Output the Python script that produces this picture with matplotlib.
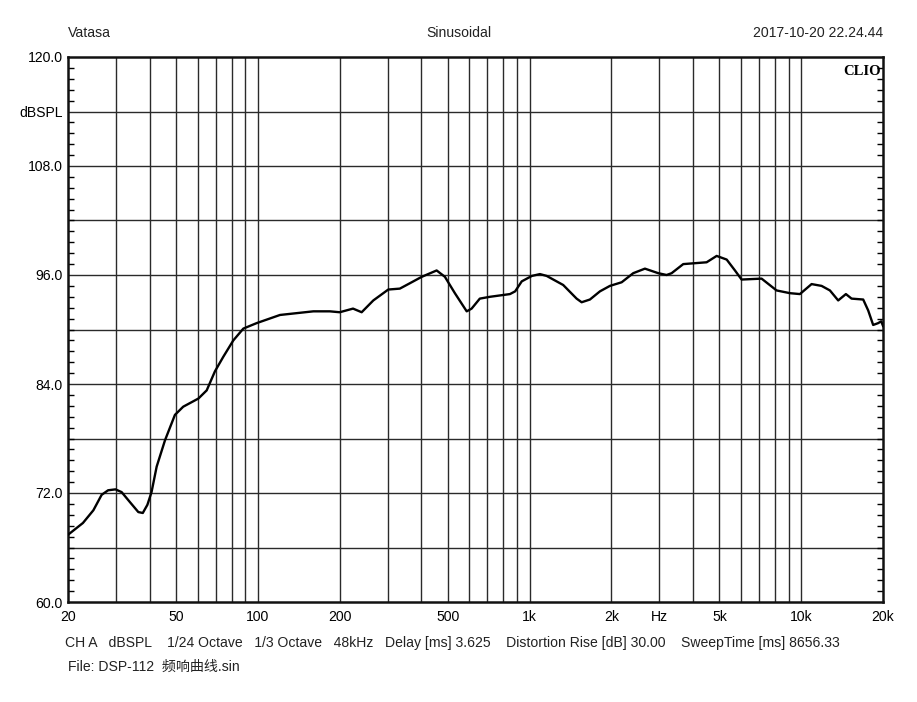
import matplotlib
matplotlib.use("Agg")
import matplotlib.pyplot as plt
from matplotlib.ticker import FixedLocator, NullFormatter, NullLocator

freq = [20, 22.7, 24.8, 26.6, 28.1, 29.9, 31.5, 33.8, 36.3, 37.7, 39.2, 40.6,
        42.4, 45.5, 49.5, 53.1, 60.4, 64.8, 69.5, 74.6, 81.2, 88.4, 98.9, 120.6,
        160, 184, 200, 224, 241, 266, 302, 333, 363, 401, 455, 488, 531, 587,
        612, 656, 715, 847, 885, 936, 1020, 1092, 1156, 1330, 1490, 1555, 1668,
        1816, 1976, 2183, 2408, 2659, 2977, 3195, 3334, 3679, 4485, 4884, 5316,
        5703, 6033, 7148, 8115, 9084, 9888, 10918, 11886, 12755, 13680, 14604,
        15325, 16910, 17640, 18400, 19190, 19700, 20000]
spl = [67.4, 68.7, 70.1, 71.8, 72.3, 72.4, 72.1, 71.0, 69.9, 69.8, 70.7, 72.1,
       74.9, 77.8, 80.6, 81.5, 82.4, 83.3, 85.4, 87.0, 88.8, 90.1, 90.7, 91.6,
       92.0, 92.0, 91.9, 92.3, 91.9, 93.2, 94.4, 94.5, 95.1, 95.8, 96.5, 95.8, 94.0, 92.0,
       92.3, 93.4, 93.6, 93.9, 94.2, 95.3, 95.9, 96.1, 95.9, 94.9, 93.4, 93.0, 93.3,
       94.2, 94.8, 95.2, 96.2, 96.7, 96.2, 96.0, 96.2, 97.2, 97.4, 98.1, 97.7,
       96.5, 95.5, 95.6, 94.3, 94.0, 93.9, 95.0, 94.8, 94.3, 93.2, 93.9,
       93.4, 93.3, 92.1, 90.5, 90.7, 90.9, 90.4]

x_grid = [30, 40, 50, 60, 70, 80, 90, 100, 200, 300, 400, 500, 600, 700, 800,
          900, 1000, 2000, 3000, 4000, 5000, 6000, 7000, 8000, 9000, 10000]
x_tick_pos = [20, 50, 100, 200, 500, 1000, 2000, 3000, 5000, 10000, 20000]
x_tick_lbl = ["20", "50", "100", "200", "500", "1k", "2k", "Hz", "5k", "10k", "20k"]
y_tick_pos = [60, 72, 84, 96, 108, 114, 120]
y_tick_lbl = ["60.0", "72.0", "84.0", "96.0", "108.0", "dBSPL", "120.0"]

FONT = ["Liberation Sans", "Noto Sans CJK SC", "DejaVu Sans"]
plt.rcParams["font.family"] = FONT
FS = 10.1

fig = plt.figure(figsize=(9.17, 7.02), dpi=100)
ax = fig.add_axes([68 / 917, 1 - 602 / 702, 815 / 917, 545 / 702])

ax.set_xscale("log")
ax.set_xlim(20, 20000)
ax.set_ylim(60, 120)

# grid
grid_c = "#2a2a2a"
for gx in x_grid:
    ax.axvline(gx, color=grid_c, lw=1.0, zorder=1)
for gy in range(66, 120, 6):
    ax.axhline(gy, color=grid_c, lw=1.0, zorder=1)

ax.plot(freq, spl, color="black", lw=1.7, zorder=3, solid_joinstyle="round")

# ticks / labels
ax.xaxis.set_major_locator(FixedLocator(x_tick_pos))
ax.set_xticklabels(x_tick_lbl)
ax.xaxis.set_minor_locator(NullLocator())
ax.xaxis.set_minor_formatter(NullFormatter())
ax.tick_params(axis="x", which="both", length=0, labelsize=FS, pad=6)

ax.yaxis.set_major_locator(FixedLocator(y_tick_pos))
ax.set_yticklabels(y_tick_lbl)
ax.yaxis.set_minor_locator(FixedLocator([60 + 1.2 * i for i in range(51)]))
ax.tick_params(axis="y", which="major", length=0, labelsize=FS, pad=4)
ax.tick_params(axis="y", which="minor", direction="in", length=4.5, width=1,
               left=True, right=True)

for s in ax.spines.values():
    s.set_linewidth(1.8)
    s.set_color("#111111")

ax.text(0.998, 0.985, "CLIO", transform=ax.transAxes, ha="right", va="top",
        fontsize=10.5, fontweight="bold", family="Liberation Serif", zorder=5)

# header
fig.text(68 / 917, 1 - 33 / 702, "Vatasa", ha="left", va="center", fontsize=FS, color="#222")
fig.text(459 / 917, 1 - 33 / 702, "Sinusoidal", ha="center", va="center", fontsize=FS, color="#222")
fig.text(883 / 917, 1 - 33 / 702, "2017-10-20 22.24.44", ha="right", va="center",
         fontsize=FS, color="#222")

# footer
fig.text(65 / 917, 1 - 643 / 702,
         "CH A   dBSPL    1/24 Octave   1/3 Octave   48kHz   Delay [ms] 3.625    "
         "Distortion Rise [dB] 30.00    SweepTime [ms] 8656.33",
         ha="left", va="center", fontsize=FS, color="#222")
fig.text(68 / 917, 1 - 667 / 702, "File: DSP-112  频响曲线.sin",
         ha="left", va="center", fontsize=FS, color="#222")

fig.savefig("out.png", dpi=100, facecolor="white")
